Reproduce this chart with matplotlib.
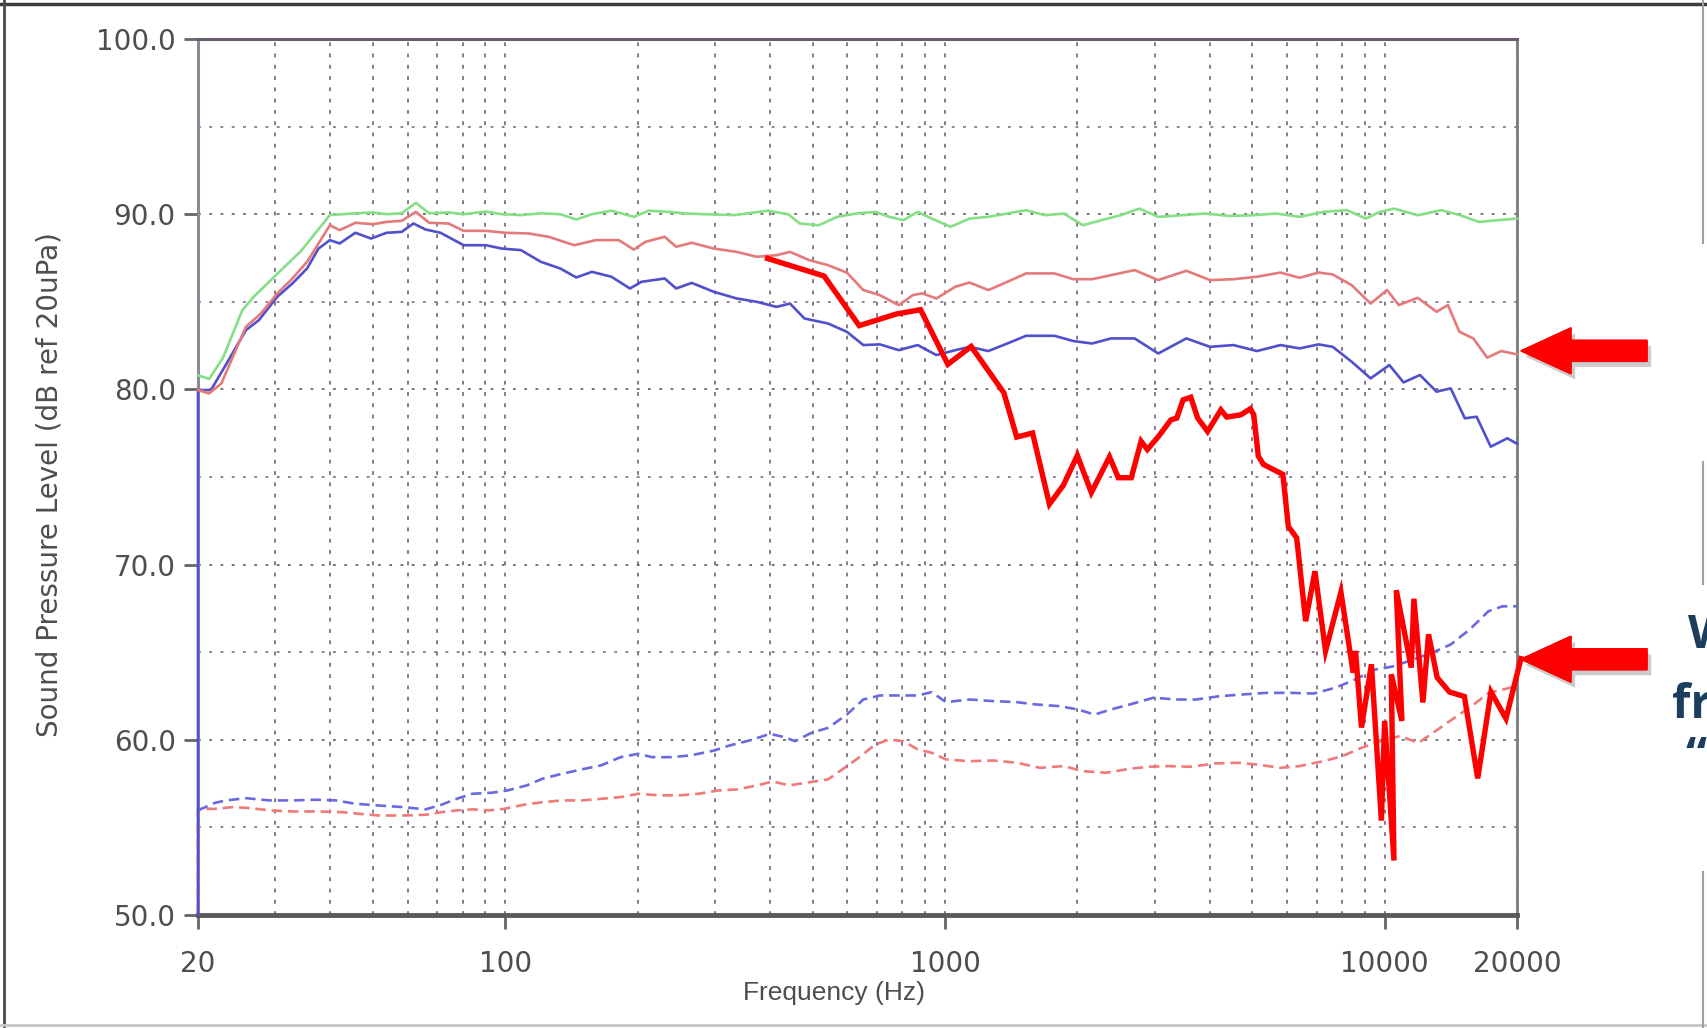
import matplotlib
matplotlib.use("Agg")
import matplotlib.pyplot as plt
import matplotlib.ticker as mticker
from matplotlib.patches import FancyArrow
from matplotlib.lines import Line2D
from matplotlib.transforms import IdentityTransform
import matplotlib.patheffects as pe

plt.rcParams['font.family'] = ['DejaVu Sans']

# ---------------- data ----------------
green_f = [20, 21.2, 22.8, 25.2, 26.8, 30.3, 34.3, 37.2, 39.9, 45.6, 50.0, 53.7, 58.1, 62.6, 67.1,
           74.3, 80.4, 90.4, 98.1, 108.5, 120.5, 133.4, 145, 157.4, 174.3, 196, 212, 230.4, 255, 283,
           333, 395, 440, 467, 516, 569, 628, 694, 747, 804, 867, 933, 1030, 1137, 1255, 1386, 1529,
           1689, 1864, 2058, 2271, 2507, 2768, 3055, 3456, 3910, 4425, 5007, 5666, 6411, 7254, 8208,
           9060, 9757, 10508, 11890, 13454, 14851, 16393, 18095, 20000]
green_db = [80.8, 80.6, 81.8, 84.5, 85.3, 86.6, 87.9, 89.0, 89.95, 90.05, 90.1, 90.0, 90.05, 90.65,
            90.05, 90.1, 90.0, 90.15, 90.0, 89.95, 90.05, 90.0, 89.7, 90.0, 90.2, 89.85, 90.2, 90.15,
            90.05, 90.0, 89.95, 90.2, 90.0, 89.47, 89.37, 89.85, 90.04, 90.13, 89.85, 89.66, 90.13,
            89.75, 89.28, 89.75, 89.85, 90.04, 90.23, 89.94, 90.04, 89.37, 89.66, 89.94, 90.32, 89.85,
            89.94, 90.04, 89.90, 89.94, 90.04, 89.85, 90.13, 90.23, 89.75, 90.13, 90.32, 89.94, 90.23,
            89.94, 89.56, 89.66, 89.75]

red_f = [20, 21.2, 22.6, 25.7, 27.8, 30.3, 32.8, 35.4, 37.2, 39.9, 42.0, 45.6, 50.0, 53.7, 58.1,
         62.6, 67.1, 74.3, 80.4, 90.4, 100, 113, 125.5, 143.5, 160.6, 181.2, 196, 208.2, 230.4, 244.7,
         265.5, 298, 336, 373, 414, 444, 491, 542, 598, 652, 711, 785, 845, 888, 956, 1056, 1137, 1255,
         1386, 1529, 1774, 1958, 2161, 2385, 2699, 3055, 3540, 4005, 4530, 5124, 5797, 6406, 7078,
         7618, 8414, 9293, 10126, 10770, 11886, 13122, 13929, 14791, 15909, 17112, 18405, 20000]
red_db = [79.96, 79.77, 80.34, 83.57, 84.33, 85.48, 86.33, 87.28, 88.14, 89.37, 89.09, 89.51, 89.43,
          89.56, 89.62, 90.13, 89.51, 89.47, 89.05, 89.05, 88.94, 88.90, 88.71, 88.23, 88.52, 88.52,
          87.98, 88.42, 88.71, 88.14, 88.37, 88.04, 87.85, 87.57, 87.66, 87.85, 87.38, 87.09, 86.67,
          85.67, 85.38, 84.81, 85.38, 85.48, 85.19, 85.86, 86.10, 85.67, 86.14, 86.62, 86.62, 86.29,
          86.29, 86.52, 86.81, 86.24, 86.77, 86.24, 86.29, 86.43, 86.67, 86.37, 86.67, 86.56, 85.95,
          84.90, 85.67, 84.81, 85.23, 84.43, 84.81, 83.29, 82.91, 81.81, 82.19, 82.0]

blue_f = [20, 20, 21.4, 23.0, 25.7, 27.5, 30.3, 32.8, 35.4, 37.6, 39.9, 42.0, 45.6, 49.5, 53.7, 58.1,
          61.8, 65.8, 71.2, 80.4, 90.4, 98.1, 108.5, 120.5, 133.4, 145, 157.4, 174.3, 192.1, 204,
          230.4, 244.7, 265.5, 298, 336, 373, 414, 444, 479, 542, 598, 652, 711, 785, 867, 956, 1056,
          1137, 1255, 1386, 1529, 1774, 1958, 2161, 2385, 2699, 3055, 3540, 4005, 4530, 5124, 5797,
          6406, 7078, 7618, 8414, 9293, 10250, 11038, 12035, 13122, 14131, 15220, 16190, 17430,
          19010, 20000]
blue_db = [50.0, 79.96, 79.96, 81.29, 83.38, 83.95, 85.29, 86.05, 86.90, 88.04, 88.52, 88.33, 88.94,
           88.61, 88.94, 88.99, 89.47, 89.13, 88.94, 88.23, 88.23, 88.04, 87.95, 87.28, 86.90, 86.39,
           86.71, 86.43, 85.76, 86.14, 86.33, 85.76, 86.08, 85.57, 85.19, 85.0, 84.71, 84.90, 84.05,
           83.76, 83.29, 82.53, 82.57, 82.24, 82.53, 81.96, 82.24, 82.43, 82.19, 82.62, 83.06, 83.06,
           82.76, 82.62, 82.91, 82.91, 82.05, 82.91, 82.43, 82.53, 82.19, 82.53, 82.34, 82.57, 82.43,
           81.58, 80.63, 81.39, 80.40, 80.82, 79.87, 80.06, 78.35, 78.44, 76.73, 77.21, 76.9]

blue_dash_f = [20, 21.9, 23.2, 25.7, 29.1, 32.9, 37.2, 41.2, 45.6, 51.5, 58.3, 65.9, 71.5, 77.5, 84.1,
               93.2, 101.2, 112, 121.5, 134.6, 149.1, 165.1, 182.9, 200.6, 215.5, 238.6, 264.2,
               298.7, 324.1, 359, 400.2, 431.5, 456, 497, 542, 598, 652, 711, 805, 867, 933, 1005,
               1137, 1286, 1456, 1607, 1818, 2007, 2189, 2385, 2634, 2981, 3372, 3723, 4212, 4766,
               5393, 6101, 6904, 7715, 8414, 9517, 10508, 11597, 12801, 14131, 15602, 17225, 18547,
               20000]
blue_dash_db = [55.97, 56.41, 56.54, 56.67, 56.54, 56.54, 56.58, 56.54, 56.35, 56.25, 56.16, 56.03,
                56.29, 56.63, 56.92, 56.98, 57.11, 57.40, 57.78, 58.06, 58.31, 58.54, 59.01, 59.20,
                59.01, 59.01, 59.11, 59.39, 59.68, 59.96, 60.34, 60.15, 59.92, 60.40, 60.68, 61.44,
                62.30, 62.53, 62.53, 62.53, 62.72, 62.15, 62.30, 62.21, 62.15, 62.02, 61.92, 61.73,
                61.44, 61.73, 62.02, 62.40, 62.30, 62.30, 62.49, 62.59, 62.68, 62.68, 62.64, 62.97,
                63.35, 64.01, 64.20, 64.58, 64.96, 65.44, 66.29, 67.34, 67.62, 67.62]

red_dash_f = [20, 20, 21.9, 24.0, 26.4, 29.1, 32.9, 37.2, 42.4, 46.5, 51.5, 58.3, 65.9, 71.5, 77.5,
              84.1, 91.5, 99.4, 110, 121.5, 134.6, 149.1, 165.1, 182.9, 200.6, 224.5, 248.6, 275.4,
              305, 337.8, 374.1, 405, 443, 542, 584, 629, 694, 747, 805, 867, 933, 1005, 1137, 1286,
              1456, 1646, 1864, 2058, 2325, 2634, 2906, 3207, 3628, 4105, 4644, 5125, 5797, 6406,
              7254, 8013, 8852, 9782, 10810, 11946, 13210, 14600, 16130, 17225, 18547, 20000]
red_dash_db = [50.0, 56.06, 56.06, 56.16, 56.10, 55.97, 55.91, 55.91, 55.87, 55.78, 55.68, 55.68,
               55.72, 55.87, 55.97, 56.03, 55.97, 56.06, 56.29, 56.44, 56.54, 56.54, 56.63, 56.73,
               56.92, 56.83, 56.83, 56.92, 57.11, 57.17, 57.40, 57.62, 57.40, 57.74, 58.31, 58.88,
               59.73, 60.02, 59.92, 59.45, 59.26, 58.88, 58.78, 58.82, 58.69, 58.40, 58.50, 58.21,
               58.12, 58.35, 58.46, 58.50, 58.46, 58.65, 58.69, 58.59, 58.40, 58.50, 58.78, 59.07,
               59.54, 59.92, 60.21, 59.83, 60.59, 61.35, 62.11, 62.68, 62.87, 63.06]

# hand-drawn highlight curve
mark_f = [395, 531, 638, 774, 880, 1015, 1147, 1361, 1456, 1582, 1728, 1859, 2000, 2152, 2367, 2479,
          2653, 2793, 2886, 3060, 3264, 3366, 3479, 3623, 3757, 3956, 4241, 4375, 4709, 4948, 5039,
          5160, 5300, 5868, 6039, 6309, 6612, 6941, 7338, 7953, 8481, 8586, 8857, 9331, 9831, 10000,
          10500, 10354, 10946, 10628, 11496, 11656, 12218, 12584, 13168, 14042, 15185, 16280, 17454,
          18877, 20413]
mark_db = [87.47, 86.47, 83.64, 84.30, 84.55, 81.43, 82.45, 79.81, 77.28, 77.51, 73.45, 74.53, 76.23,
           74.11, 76.15, 74.96, 74.96, 77.04, 76.57, 77.32, 78.26, 78.36, 79.40, 79.55, 78.36, 77.60,
           78.83, 78.42, 78.55, 78.89, 78.55, 76.19, 75.72, 75.15, 72.18, 71.52, 66.77, 69.62, 65.07,
           68.43, 63.83, 65.07, 60.70, 64.31, 55.39, 61.08, 53.11, 63.74, 61.08, 68.54, 64.12, 68.05,
           62.13, 66.02, 63.55, 62.73, 62.47, 57.80, 62.73, 61.21, 64.63]

arrow_db = [82.2, 64.6]

x_ticks = [20, 100, 1000, 10000, 20000]
x_tick_labels = ['20', '100', '1000', '10000', '20000']
x_grid = [30, 40, 50, 60, 70, 80, 90, 200, 300, 400, 500, 600, 700, 800, 900,
          2000, 3000, 4000, 5000, 6000, 7000, 8000, 9000]
y_ticks = [50, 60, 70, 80, 90, 100]
y_grid = [55, 65, 75, 85, 95]

# ---------------- figure ----------------
W, H, DPI = 1708, 1028, 100
fig = plt.figure(figsize=(W / DPI, H / DPI), dpi=DPI)
fig.patch.set_facecolor('white')

AX_L, AX_R, AX_T, AX_B = 198, 1517, 39, 915
ax = fig.add_axes([AX_L / W, 1 - AX_B / H, (AX_R - AX_L) / W, (AX_B - AX_T) / H])
ax.set_xscale('log')
ax.set_xlim(20, 20000)
ax.set_ylim(50, 100)

ax.xaxis.set_major_locator(mticker.FixedLocator(x_ticks))
ax.xaxis.set_major_formatter(mticker.FixedFormatter(x_tick_labels))
ax.xaxis.set_minor_locator(mticker.FixedLocator(x_grid))
ax.xaxis.set_minor_formatter(mticker.NullFormatter())
ax.yaxis.set_major_locator(mticker.FixedLocator(y_ticks))
ax.yaxis.set_major_formatter(mticker.FormatStrFormatter('%.1f'))
ax.yaxis.set_minor_locator(mticker.FixedLocator(y_grid))

tick_col = '#4e4e4e'
ax.tick_params(axis='both', which='major', labelsize=20, labelcolor=tick_col,
               color='#666666', width=2, length=10, direction='out')
ax.tick_params(axis='y', which='major', pad=6)
ax.tick_params(axis='x', which='major', pad=15)
ax.tick_params(which='minor', length=0)

# grid
ax.xaxis.grid(True, which='both', color='#75687c', linestyle=(0, (2.2, 4.3)), linewidth=1.25)
ax.yaxis.grid(True, which='major', color='#687568', linestyle=(0, (1.5, 4.5)), linewidth=1.35)
ax.yaxis.grid(True, which='minor', color='#927892', linestyle=(0, (1.5, 4.5)), linewidth=1.35)
ax.set_axisbelow(True)

# spines
ax.spines['top'].set_color('#6a5a6e')
ax.spines['top'].set_linewidth(2.2)
ax.spines['left'].set_color('#8a8a98')
ax.spines['left'].set_linewidth(2.2)
ax.spines['right'].set_color('#7a7a7a')
ax.spines['right'].set_linewidth(2.0)
ax.spines['bottom'].set_color('#5a5a5a')
ax.spines['bottom'].set_linewidth(3.5)

# curves
lw = 1.9
ax.plot(red_dash_f, red_dash_db, color='#ee7a7a', lw=lw, linestyle=(0, (4.0, 2.2)),
        zorder=3, clip_on=False)
ax.plot(blue_dash_f, blue_dash_db, color='#6a6ae0', lw=lw, linestyle=(0, (4.0, 2.2)),
        zorder=3, clip_on=False)
ax.plot(blue_f, blue_db, color='#5050cc', lw=lw, zorder=3.1, clip_on=False)
ax.plot(red_f, red_db, color='#e47a7a', lw=lw, zorder=3.2, clip_on=False)
ax.plot(green_f, green_db, color='#86de86', lw=lw, zorder=3.3, clip_on=False)
ax.plot(mark_f, mark_db, color='#ff0000', lw=3.9, zorder=5, clip_on=False,
        solid_joinstyle='miter')

# axis labels
ax.set_xlabel('Frequency (Hz)', fontsize=19, color=tick_col, va='center', ha='center',
              family=['Liberation Sans', 'DejaVu Sans'])
ax.xaxis.set_label_coords((834 - AX_L) / (AX_R - AX_L), -(993 - AX_B) / (AX_B - AX_T))
ax.set_ylabel('Sound Pressure Level (dB ref 20uPa)', fontsize=20, color=tick_col,
              va='center', ha='center')
ax.yaxis.set_label_coords(-(AX_L - 50) / (AX_R - AX_L), (AX_B - 485) / (AX_B - AX_T))

# ---------------- slide decorations (pixel coords, origin top-left) ----------------
ident = IdentityTransform()

def P(x, y):
    return x, H - y

fig.canvas.draw()

# red arrows pointing at the curve ends
for db in arrow_db:
    tip_x, tip_y = ax.transData.transform((20000, db))
    tip_x += 4
    length = 126
    arr = FancyArrow(tip_x + length, tip_y, -length, 0, width=21, head_width=46,
                     head_length=50, length_includes_head=True, color='#ff0000',
                     transform=ident, zorder=10)
    arr.set_path_effects([pe.withSimplePatchShadow(offset=(3, -4), alpha=0.3, shadow_rgbFace='#555555'),
                          pe.Normal()])
    fig.add_artist(arr)

# outer frame of the screenshot
fig.add_artist(Line2D([P(0, 4)[0], P(1708, 4)[0]], [P(0, 4)[1], P(1708, 4)[1]],
                      color='#3c3c3c', lw=2.5, transform=ident))
fig.add_artist(Line2D([P(4, 0)[0], P(4, 1028)[0]], [P(4, 0)[1], P(4, 1028)[1]],
                      color='#4a4a4a', lw=2.0, transform=ident))
fig.add_artist(Line2D([P(0, 1025)[0], P(1708, 1025)[0]], [P(0, 1025)[1], P(1708, 1025)[1]],
                      color='#c8c8c8', lw=2.0, transform=ident))
for y0, y1 in [(0, 243), (462, 584), (872, 1028)]:
    fig.add_artist(Line2D([P(1703, y0)[0], P(1703, y1)[0]], [P(1703, y0)[1], P(1703, y1)[1]],
                          color='#a0a0a0', lw=1.5, transform=ident))

# clipped text of the neighbouring slide box (cut off at the right edge, as in the reference)
txt_kw = dict(color='#1d3d5e', fontsize=34, fontweight='bold', family=['Open Sans', 'DejaVu Sans'],
              ha='left', va='baseline')
fig.text(1688 / W, 1 - 648 / H, 'W', **txt_kw)
fig.text(1672 / W, 1 - 718 / H, 'fr', **txt_kw)
fig.text(1685 / W, 1 - 770 / H, '\u201ca', **txt_kw)

fig.savefig('out.png', dpi=DPI, facecolor='white')
